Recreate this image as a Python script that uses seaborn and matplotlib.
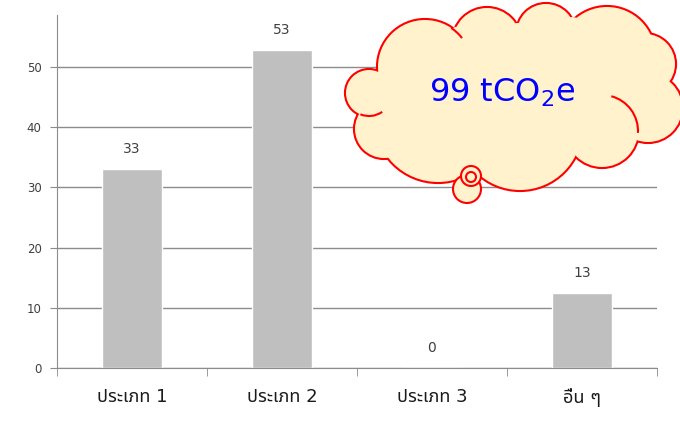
import matplotlib
matplotlib.use('Agg')
import matplotlib.pyplot as plt
import seaborn as sns
import pandas as pd
from matplotlib.patches import Circle, Polygon, Arc

categories = ['ประเภท 1', 'ประเภท 2', 'ประเภท 3', 'อื่น ๆ']
values = [33.1, 52.8, 0.0, 12.5]
value_labels = ['33', '53', '0', '13']
y_ticks = [0, 10, 20, 30, 40, 50]
total_label = '99 tCO$_2$e'

sns.set_style('white')
plt.rcParams['font.family'] = ['DejaVu Sans', 'Noto Sans', 'Noto Sans Thai', 'Loma', 'Garuda', 'Tlwg Typo']
plt.rcParams['mathtext.default'] = 'regular'

df = pd.DataFrame({'cat': categories, 'val': values})

fig = plt.figure(figsize=(6.8, 4.29), dpi=100)
ax = fig.add_axes([57 / 680, 1 - 368 / 429, 600 / 680, 353 / 429])
sns.barplot(data=df, x='cat', y='val', color='#BFBFBF', width=0.4, saturation=1, ax=ax, zorder=2)

ax.set_ylim(0, 58.6)
ax.set_xlim(-0.5, 3.5)
ax.set_yticks(y_ticks)
ax.yaxis.grid(True, color='#8C8C8C', lw=1)
ax.set_axisbelow(True)
for s in ['top', 'right']:
    ax.spines[s].set_visible(False)
for s in ['left', 'bottom']:
    ax.spines[s].set_color('#8C8C8C')
ax.set_xlabel('')
ax.set_ylabel('')
ax.tick_params(axis='y', left=True, length=5, color='#8C8C8C', labelsize=8.5, labelcolor='#404040', pad=6)
ax.set_xticks([-0.5, 0.5, 1.5, 2.5, 3.5], minor=True)
ax.tick_params(axis='x', which='minor', bottom=True, length=6, color='#8C8C8C')
ax.tick_params(axis='x', which='major', bottom=False, labelsize=13, labelcolor='#1a1a1a', pad=11)

for i, (v, lab) in enumerate(zip(values, value_labels)):
    ax.annotate(lab, (i, v), xytext=(0, 9), textcoords='offset points', ha='center', va='bottom',
                fontsize=10, color='#404040')

# cloud callout drawn on a pixel overlay
ov = fig.add_axes([0, 0, 1, 1])
ov.set_xlim(0, 680)
ov.set_ylim(429, 0)
ov.axis('off')

lobes = [(425, 67, 47), (487, 42, 34), (546, 33, 29), (607, 55, 48), (645, 64, 30),
         (648, 108, 34), (602, 131, 36), (520, 128, 62), (438, 119, 63), (384, 129, 29),
         (369, 93, 23)]
joints = [(378, 72), (455, 27), (518, 23), (572, 17), (642, 28), (660, 82), (635, 133),
          (570, 153), (473, 178), (393, 155), (362, 112)]
fill = '#FFF2CC'
for x, y, r in lobes:
    ov.add_patch(Circle((x, y), r, facecolor='red', edgecolor='red', lw=3, zorder=3))
for x, y, r in lobes:
    ov.add_patch(Circle((x, y), r, facecolor=fill, edgecolor='none', lw=0, zorder=4))
ov.add_patch(Polygon(joints, closed=True, facecolor=fill, edgecolor='none', zorder=4))

# inner strokes where lobes meet
inner = [(0, -56, -38), (6, -75, 3), (10, 55, 112)]
for k, t1, t2 in inner:
    x, y, r = lobes[k]
    ov.add_patch(Arc((x, y), 2 * r, 2 * r, theta1=t1, theta2=t2, color='red', lw=1.5, zorder=5))

for x, y, r in [(467, 189, 14), (471, 176, 10), (471, 177, 5)]:
    ov.add_patch(Circle((x, y), r, facecolor=fill, edgecolor='red', lw=1.5, zorder=5))

ov.text(502, 93, total_label, ha='center', va='center', fontsize=23, color='#0000FF', zorder=6)

fig.savefig('out.png', dpi=100)
